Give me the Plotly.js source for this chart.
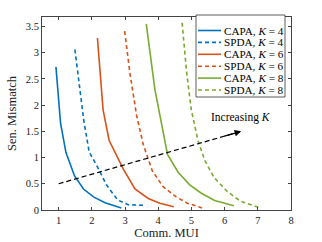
<!DOCTYPE html>
<html><head><meta charset="utf-8">
<script src="https://cdn.plot.ly/plotly-3.0.1.min.js"></script>
<style>html,body{margin:0;padding:0;background:#fff}#c{width:322px;height:242px}</style>
</head><body><div id="c"></div>
<script>
const capa4X = [0.92, 1.06, 1.22, 1.48, 1.75, 2.05, 2.4, 2.89];
const capa4Y = [2.73, 1.65, 1.10, 0.65, 0.40, 0.25, 0.14, 0.04];
const spda4X = [1.49, 1.62, 1.76, 1.92, 2.19, 2.44, 2.78, 3.1, 3.54];
const spda4Y = [3.06, 2.40, 1.70, 1.11, 0.80, 0.48, 0.19, 0.10, 0.09];
const capa6X = [2.17, 2.34, 2.52, 2.95, 3.3, 3.7, 4.05, 4.47];
const capa6Y = [3.28, 1.91, 1.33, 0.78, 0.40, 0.22, 0.13, 0.06];
const spda6X = [2.99, 3.15, 3.35, 3.55, 3.82, 4.14, 4.54, 4.88, 5.32];
const spda6Y = [3.41, 2.60, 1.80, 1.25, 0.75, 0.45, 0.25, 0.13, 0.04];
const capa8X = [3.64, 3.9, 4.28, 4.6, 4.95, 5.3, 5.7, 6.28];
const capa8Y = [3.55, 2.30, 1.06, 0.72, 0.48, 0.32, 0.18, 0.08];
const spda8X = [4.72, 4.86, 5.0, 5.2, 5.4, 5.68, 6.07, 6.47, 7.07];
const spda8Y = [3.57, 2.60, 1.90, 1.32, 0.95, 0.62, 0.36, 0.17, 0.04];
const arrowX = [1.0, 6.5];
const arrowY = [0.5, 1.5];
const seriesNames = ['CAPA, <i>K</i> = 4','SPDA, <i>K</i> = 4','CAPA, <i>K</i> = 6','SPDA, <i>K</i> = 6','CAPA, <i>K</i> = 8','SPDA, <i>K</i> = 8'];
const xTicks = [1,2,3,4,5,6,7,8];
const yTicks = [0,0.5,1,1.5,2,2.5,3,3.5];
const yTickText = ['0','0.5','1','1.5','2','2.5','3','3.5'];

const blue='#0072BD', orange='#D95319', green='#77AC30';
const colors=[blue,blue,orange,orange,green,green];
const dashes=['solid','4px,3px','solid','4px,3px','solid','4px,3px'];
const xs=[capa4X,spda4X,capa6X,spda6X,capa8X,spda8X];
const ys=[capa4Y,spda4Y,capa6Y,spda6Y,capa8Y,spda8Y];
const font='"Liberation Serif", "DejaVu Serif", serif';

const traces = xs.map((x,i)=>({x:x,y:ys[i],type:'scatter',mode:'lines',name:seriesNames[i],
  line:{color:colors[i],width:1.6,dash:dashes[i]},showlegend:false,hoverinfo:'skip'}));
const ax0=arrowX[0], ay0=arrowY[0], ax1=arrowX[1], ay1=arrowY[1];
const t=0.965;
traces.push({x:[ax0, ax0+(ax1-ax0)*t], y:[ay0, ay0+(ay1-ay0)*t], type:'scatter', mode:'lines',
  line:{color:'#000',width:1.2,dash:'5px,3px'}, showlegend:false, hoverinfo:'skip'});

const L=42, R=31, T=17, B=32, W=322, H=242;
const pw=W-L-R, ph=H-T-B;
const px=(p)=>(p-L)/pw, py=(p)=>(H-B-p)/ph;

const shapes=[{type:'rect',xref:'paper',yref:'paper',x0:px(196),x1:px(285),y0:py(97),y1:py(15),
  line:{color:'#333',width:0.8},fillcolor:'#fff',layer:'above'}];
const annotations=[];
const rowY=[30.5,42.4,54.3,66.2,78.1,90];
for(let i=0;i<6;i++){
  shapes.push({type:'line',xref:'paper',yref:'paper',x0:px(198),x1:px(221),y0:py(rowY[i]),y1:py(rowY[i]),
    line:{color:colors[i],width:1.6,dash:dashes[i]},layer:'above'});
  annotations.push({xref:'paper',yref:'paper',x:px(222),y:py(rowY[i]),xanchor:'left',yanchor:'middle',
    text:seriesNames[i],showarrow:false,font:{family:font,size:11.2,color:'#000'}});
}
annotations.push({x:ax1,y:ay1,ax:ax0+(ax1-ax0)*0.9,ay:ay0+(ay1-ay0)*0.9,axref:'x',ayref:'y',xref:'x',yref:'y',
  showarrow:true,arrowhead:2,arrowsize:1.1,arrowwidth:1.2,arrowcolor:'#000',text:''});
annotations.push({x:6.5,y:1.76,xref:'x',yref:'y',text:'Increasing <i>K</i>',showarrow:false,
  font:{family:font,size:11.5,color:'#000'}});

const axCommon={showline:true,mirror:'ticks',linecolor:'#444',linewidth:1,ticks:'inside',ticklen:3,
  tickcolor:'#444',showgrid:false,zeroline:false,tickfont:{family:font,size:10.5,color:'#222'}};
const layout={
  width:W,height:H,margin:{l:L,r:R,t:T,b:B,pad:0},paper_bgcolor:'#fff',plot_bgcolor:'#fff',
  xaxis:Object.assign({},axCommon,{range:[0.5,8],tickvals:xTicks,ticktext:xTicks.map(String),
    title:{text:'Comm. MUI',font:{family:font,size:12.5,color:'#222'},standoff:3}}),
  yaxis:Object.assign({},axCommon,{range:[0,3.68],tickvals:yTicks,ticktext:yTickText,
    title:{text:'Sen. Mismatch',font:{family:font,size:12.5,color:'#222'},standoff:6}}),
  shapes:shapes,annotations:annotations,showlegend:false
};
Plotly.newPlot('c',traces,layout,{staticPlot:true,displayModeBar:false});
</script></body></html>
